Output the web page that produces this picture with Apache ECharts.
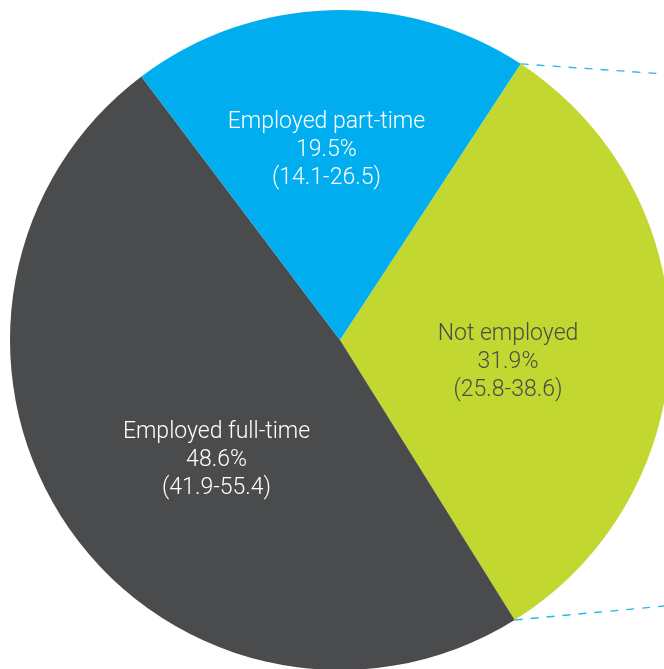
<!DOCTYPE html>
<html>
<head>
<meta charset="utf-8">
<script src="https://cdn.jsdelivr.net/npm/echarts@6/dist/echarts.min.js"></script>
<style>
  html, body { margin: 0; padding: 0; background: #fff; }
  #chart { width: 664px; height: 669px; }
</style>
</head>
<body>
<div id="chart"></div>
<script>
// data
const categories = ['Not employed', 'Employed full-time', 'Employed part-time']
const values = [31.9, 48.6, 19.5]
const ranges = ['25.8-38.6', '41.9-55.4', '14.1-26.5']
const colors = ['#c2d72f', '#4a4b4d', '#00aeef']
const textColors = ['#4a4b4d', '#ffffff', '#ffffff']
const labelOffsets = [[0, 20], [15, 25], [-8, -22]]

const cx = 340
const cy = 340
const radius = 330
const startAngle = 56.8

// dashed connector lines from the edges of the "Not employed" slice
const endAngle = startAngle - values[0] / 100 * 360
function edgePoint(deg) {
  const a = deg * Math.PI / 180
  return [cx + radius * Math.cos(a), cy - radius * Math.sin(a)]
}
const p1 = edgePoint(startAngle)
const p2 = edgePoint(endAngle)
const lineStyle = { stroke: '#29b6ec', lineWidth: 1.3, lineDash: [8, 8] }

const chart = echarts.init(document.getElementById('chart'))
chart.setOption({
  animation: false,
  graphic: [
    { type: 'line', shape: { x1: p1[0], y1: p1[1], x2: 664, y2: 74 }, style: lineStyle },
    { type: 'line', shape: { x1: p2[0], y1: p2[1], x2: 664, y2: 606 }, style: lineStyle }
  ],
  series: [
    {
      type: 'pie',
      center: [cx, cy],
      radius: radius,
      startAngle: startAngle,
      clockwise: true,
      silent: true,
      itemStyle: { borderWidth: 0 },
      label: {
        position: 'inside',
        fontFamily: 'Roboto',
        fontWeight: 300,
        fontSize: 23,
        lineHeight: 28,
        align: 'center'
      },
      labelLine: { show: false },
      data: categories.map((name, i) => ({
        name: name,
        value: values[i],
        itemStyle: { color: colors[i] },
        label: {
          color: textColors[i],
          offset: labelOffsets[i],
          formatter: name + '\n' + values[i].toFixed(1) + '%\n(' + ranges[i] + ')'
        }
      }))
    }
  ]
})
</script>
</body>
</html>
